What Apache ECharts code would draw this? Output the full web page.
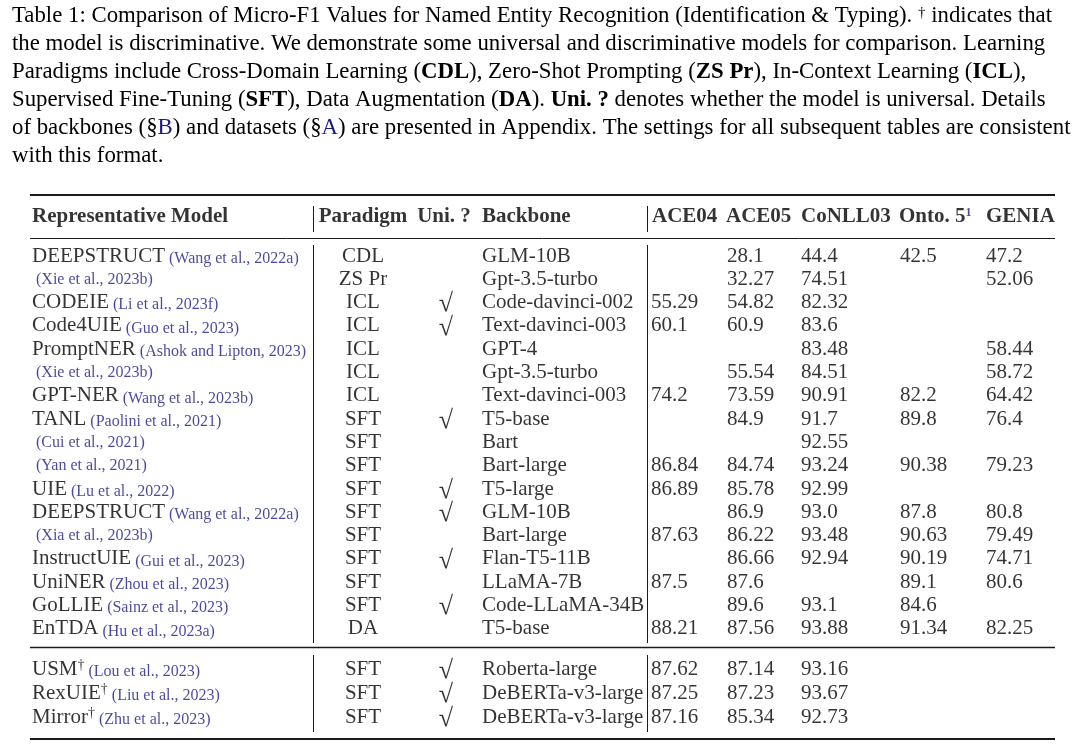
<!DOCTYPE html>
<html>
<head>
<meta charset="utf-8">
<script src="https://cdn.jsdelivr.net/npm/echarts@6/dist/echarts.min.js"></script>
<style>
  html, body { margin: 0; padding: 0; background: #fff; }
  #table1 { width: 1080px; height: 755px; }
</style>
</head>
<body>
<div id="table1"></div>
<script>
  // table data, one entry per row
  var models = ['DEEPSTRUCT', '', 'CODEIE', 'Code4UIE', 'PromptNER', '', 'GPT-NER', 'TANL', '', '', 'UIE', 'DEEPSTRUCT', '', 'InstructUIE', 'UniNER', 'GoLLIE', 'EnTDA', 'USM', 'RexUIE', 'Mirror']
  var cites = ['Wang et al., 2022a', 'Xie et al., 2023b', 'Li et al., 2023f', 'Guo et al., 2023', 'Ashok and Lipton, 2023', 'Xie et al., 2023b', 'Wang et al., 2023b', 'Paolini et al., 2021', 'Cui et al., 2021', 'Yan et al., 2021', 'Lu et al., 2022', 'Wang et al., 2022a', 'Xia et al., 2023b', 'Gui et al., 2023', 'Zhou et al., 2023', 'Sainz et al., 2023', 'Hu et al., 2023a', 'Lou et al., 2023', 'Liu et al., 2023', 'Zhu et al., 2023']
  var discriminative = [0, 0, 0, 0, 0, 0, 0, 0, 0, 0, 0, 0, 0, 0, 0, 0, 0, 1, 1, 1]
  var paradigms = ['CDL', 'ZS Pr', 'ICL', 'ICL', 'ICL', 'ICL', 'ICL', 'SFT', 'SFT', 'SFT', 'SFT', 'SFT', 'SFT', 'SFT', 'SFT', 'SFT', 'DA', 'SFT', 'SFT', 'SFT']
  var universal = [0, 0, 1, 1, 0, 0, 0, 1, 0, 0, 1, 1, 0, 1, 0, 1, 0, 1, 1, 1]
  var backbones = ['GLM-10B', 'Gpt-3.5-turbo', 'Code-davinci-002', 'Text-davinci-003', 'GPT-4', 'Gpt-3.5-turbo', 'Text-davinci-003', 'T5-base', 'Bart', 'Bart-large', 'T5-large', 'GLM-10B', 'Bart-large', 'Flan-T5-11B', 'LLaMA-7B', 'Code-LLaMA-34B', 'T5-base', 'Roberta-large', 'DeBERTa-v3-large', 'DeBERTa-v3-large']
  var ace04 = ['', '', '55.29', '60.1', '', '', '74.2', '', '', '86.84', '86.89', '', '87.63', '', '87.5', '', '88.21', '87.62', '87.25', '87.16']
  var ace05 = ['28.1', '32.27', '54.82', '60.9', '', '55.54', '73.59', '84.9', '', '84.74', '85.78', '86.9', '86.22', '86.66', '87.6', '89.6', '87.56', '87.14', '87.23', '85.34']
  var conll03 = ['44.4', '74.51', '82.32', '83.6', '83.48', '84.51', '90.91', '91.7', '92.55', '93.24', '92.99', '93.0', '93.48', '92.94', '', '93.1', '93.88', '93.16', '93.67', '92.73']
  var onto5 = ['42.5', '', '', '', '', '', '82.2', '89.8', '', '90.38', '', '87.8', '90.63', '90.19', '89.1', '84.6', '91.34', '', '', '']
  var genia = ['47.2', '52.06', '', '', '58.44', '58.72', '64.42', '76.4', '', '79.23', '', '80.8', '79.49', '74.71', '80.6', '', '82.25', '', '', '']
  var headers = ['Representative Model', 'Paradigm', 'Uni. ?', 'Backbone', 'ACE04', 'ACE05', 'CoNLL03', 'Onto. 5', 'GENIA']

  var captionLines = [
    'Table 1: Comparison of Micro-F1 Values for Named Entity Recognition (Identification & Typing). {sup|†} indicates that',
    'the model is discriminative. We demonstrate some universal and discriminative models for comparison. Learning',
    'Paradigms include Cross-Domain Learning ({b|CDL}), Zero-Shot Prompting ({b|ZS Pr}), In-Context Learning ({b|ICL}),',
    'Supervised Fine-Tuning ({b|SFT}), Data Augmentation ({b|DA}). {b|Uni. ?} denotes whether the model is universal. Details',
    'of backbones (§{l|B}) and datasets (§{l|A}) are presented in Appendix. The settings for all subsequent tables are consistent',
    'with this format.'
  ]

  // layout
  var FONT = '"Liberation Serif", "Times New Roman", serif'
  var BLUE = '#1a1a85'
  var CAP = 22.8
  var ROW0 = 256, PITCH = 23.3          // px of first body row, px per row
  var colX = [32, 363, 446, 482, 651, 727, 801, 900, 986]
  var split = 17                        // rows below the midrule
  function rowPos(i) {
    return i < split ? i : (669 - ROW0) / PITCH + (i - split) * 24 / PITCH
  }
  function px(y) { return (y - ROW0) / PITCH }
  var headerPos = px(217)

  var chart = echarts.init(document.getElementById('table1'))

  function textSeries(x, align, fmt, size, offset) {
    var data = []
    models.forEach(function (m, i) {
      if (fmt(i) !== '') data.push([x, rowPos(i), i])
    })
    return {
      type: 'scatter',
      symbolSize: 0,
      silent: true,
      data: data,
      label: {
        show: true,
        position: align === 'left' ? 'right' : 'inside',
        distance: 0,
        offset: offset || [0, 0],
        fontFamily: FONT,
        fontSize: size || 21,
        color: '#000',
        formatter: function (p) { return fmt(p.data[2]) },
        rich: {
          m: { fontFamily: FONT, fontSize: 21, color: '#000' },
          d: { fontFamily: FONT, fontSize: 14, color: '#000', verticalAlign: 'top' },
          c: { fontFamily: FONT, fontSize: 16, color: BLUE, verticalAlign: 'bottom' }
        }
      }
    }
  }

  var series = [
    textSeries(colX[0], 'left', function (i) {
      var s = models[i] ? '{m|' + models[i] + '}' : ''
      if (discriminative[i]) s += '{d|†}'
      return s + '{c| (' + cites[i] + ')}'
    }),
    textSeries(colX[1], 'center', function (i) { return paradigms[i] }),
    textSeries(colX[2], 'center', function (i) { return universal[i] ? '√' : '' }, 26, [0, 2]),
    textSeries(colX[3], 'left', function (i) { return backbones[i] }),
    textSeries(colX[4], 'left', function (i) { return ace04[i] }),
    textSeries(colX[5], 'left', function (i) { return ace05[i] }),
    textSeries(colX[6], 'left', function (i) { return conll03[i] }),
    textSeries(colX[7], 'left', function (i) { return onto5[i] }),
    textSeries(colX[8], 'left', function (i) { return genia[i] })
  ]

  // header row
  var headerX = [32, 363, 444, 482, 652, 726, 801, 899, 986]
  series.push({
    type: 'scatter',
    symbolSize: 0,
    silent: true,
    data: headers.map(function (h, k) {
      var centered = k === 1 || k === 2
      return {
        value: [headerX[k], headerPos],
        label: {
          position: centered ? 'inside' : 'right',
          formatter: k === 7 ? '{h|' + h + '}{s|1}' : '{h|' + h + '}'
        }
      }
    }),
    label: {
      show: true,
      distance: 0,
      fontFamily: FONT,
      fontSize: 21,
      fontWeight: 'bold',
      color: '#000',
      rich: {
        h: { fontFamily: FONT, fontSize: 21, fontWeight: 'bold', color: '#000' },
        s: { fontFamily: FONT, fontSize: 12, color: BLUE, verticalAlign: 'top' }
      }
    }
  })

  // booktabs rules and column separators
  function hRule(y, w) {
    return [{ coord: [30, px(y)], lineStyle: { width: w } }, { coord: [1055, px(y)] }]
  }
  function vRule(x, y1, y2) {
    return [{ coord: [x, px(y1)], lineStyle: { width: 1 } }, { coord: [x, px(y2)] }]
  }
  series.push({
    type: 'line',
    data: [],
    silent: true,
    markLine: {
      silent: true,
      symbol: ['none', 'none'],
      animation: false,
      label: { show: false },
      lineStyle: { color: '#1a1a1a', type: 'solid' },
      data: [
        hRule(195, 2), hRule(238, 1), hRule(647, 1.4), hRule(739, 2),
        vRule(313, 206, 232), vRule(313, 245, 643), vRule(313, 655, 732),
        vRule(647, 206, 232), vRule(647, 245, 643), vRule(647, 655, 732)
      ]
    }
  })

  var option = {
    animation: false,
    backgroundColor: '#fff',
    title: {
      left: 12,
      top: 2,
      padding: 0,
      text: captionLines.join('\n'),
      textStyle: {
        fontFamily: FONT,
        fontSize: CAP,
        fontWeight: 'normal',
        color: '#000',
        lineHeight: 28,
        rich: {
          b: { fontFamily: FONT, fontSize: CAP, fontWeight: 'bold', color: '#000', lineHeight: 28 },
          l: { fontFamily: FONT, fontSize: CAP, color: BLUE, lineHeight: 28 },
          sup: { fontFamily: FONT, fontSize: 15, color: '#000', lineHeight: 28, verticalAlign: 'top', padding: [4, 0, 0, 0] }
        }
      }
    },
    grid: { left: 0, right: 0, top: 0, bottom: 0 },
    xAxis: { type: 'value', min: 0, max: 1080, show: false },
    yAxis: { type: 'value', inverse: true, min: px(0), max: px(755), show: false },
    series: series
  }
  chart.setOption(option)
</script>
</body>
</html>
